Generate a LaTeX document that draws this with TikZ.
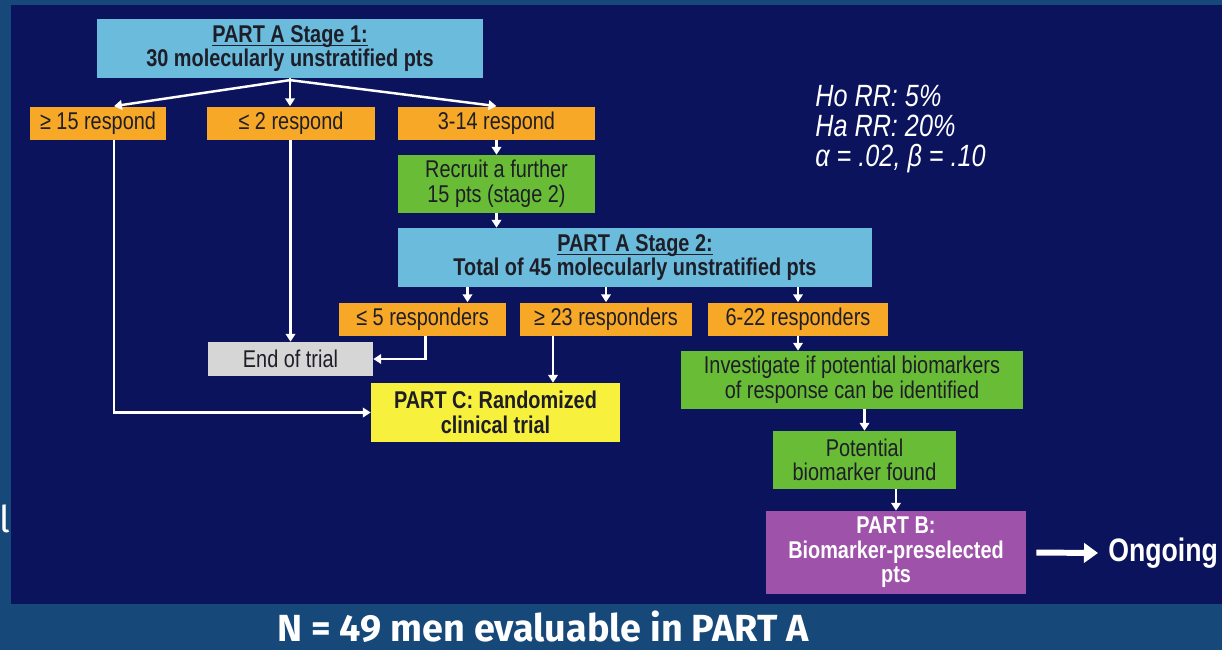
\documentclass[tikz,border=0pt]{standalone}
\usepackage{fontspec}
\setmainfont{Liberation Sans}[FakeStretch=0.82]
\newfontfamily\slidefont{Fira Sans}
\usepackage{tikz}
\usetikzlibrary{positioning,calc,arrows.meta}

\newcommand\ulpart[1]{\setbox0\hbox{#1}\rlap{\rule[-2.2pt]{\wd0}{0.7pt}}\box0}

\definecolor{frameblue}{RGB}{23,72,122}
\definecolor{slidenavy}{RGB}{11,19,93}
\definecolor{stageblue}{RGB}{107,187,221}
\definecolor{respOrange}{RGB}{247,168,38}
\definecolor{stepGreen}{RGB}{104,188,54}
\definecolor{endGray}{RGB}{214,214,214}
\definecolor{partYellow}{RGB}{247,240,60}
\definecolor{partPurple}{RGB}{158,82,170}
\definecolor{boxtext}{RGB}{30,30,40}

\begin{document}
\begin{tikzpicture}[
    x=0.02cm, y=-0.02cm,
    box/.style={align=center, inner sep=1pt, text=boxtext,
                font=\fontsize{13.8}{14}\selectfont},
    stage/.style={box, fill=stageblue, minimum height=1.18cm},
    resp/.style={box, fill=respOrange, minimum height=0.66cm},
    act/.style={box, fill=stepGreen, minimum height=1.16cm},
    arr/.style={draw=white, line width=1.4pt,
                -{Triangle[width=5.5pt,length=4.5pt]}},
    bigarr/.style={draw=white, line width=3.4pt,
                   -{Triangle[width=11pt,length=8pt]}},
  ]
  \useasboundingbox (0,0) rectangle (1222,650);
  % ---------------------------------------------------------------
  % slide background: lighter frame, dark panel
  % ---------------------------------------------------------------
  \fill[frameblue] (0,0) rectangle (1222,650);
  \node[text=white, font=\slidefont\fontsize{21}{24}\selectfont] (cut) at (5,519) {l};
  \fill[slidenavy] (11,5) rectangle (1222,604);

  % ---------------------------------------------------------------
  % Stage 1 and its three outcomes
  % ---------------------------------------------------------------
  \node[stage, minimum width=7.72cm] (s1) at (290,48.5)
    {\ulpart{\textbf{PART A Stage 1:}}\\\textbf{30 molecularly unstratified pts}};
  \node[resp, minimum width=2.72cm] (ge15) at (98,123) {≥ 15 respond};
  \node[resp, minimum width=3.36cm] (le2) at (291,123) {≤ 2 respond};
  \node[resp, minimum width=3.94cm] (r314) at (496.5,123) {3-14 respond};
  \node[act, minimum width=3.94cm] (recr) at (496.5,184)
    {Recruit a further\\15 pts (stage 2)};

  % ---------------------------------------------------------------
  % Stage 2 and its three outcomes
  % ---------------------------------------------------------------
  \node[stage, minimum width=9.48cm] (s2) at (635,257.5)
    {\ulpart{\textbf{PART A Stage 2:}}\\\textbf{Total of 45 molecularly unstratified pts}};
  \node[resp, minimum width=3.34cm] (le5) at (422.5,319) {≤ 5 responders};
  \node[resp, minimum width=3.44cm] (ge23) at (606,319) {≥ 23 responders};
  \node[resp, minimum width=3.6cm] (r622) at (798,319) {6-22 responders};

  % end points
  \node[box, fill=endGray, minimum width=3.3cm, minimum height=0.68cm] (endt)
    at (290.5,359) {End of trial};
  \node[box, fill=partYellow, minimum width=4.98cm, minimum height=1.18cm] (partc)
    at (495.5,412.5) {\textbf{PART C: Randomized}\\\textbf{clinical trial}};
  \node[act, minimum width=6.84cm] (invest) at (852,380)
    {Investigate if potential biomarkers\\of response can be identified};
  \node[act, minimum width=3.66cm] (found) at (864.5,460)
    {Potential\\biomarker found};
  \node[box, fill=partPurple, text=white, minimum width=5.2cm, minimum height=1.66cm]
    (partb) at (896,552.5) {\textbf{PART B:}\\\textbf{Biomarker-preselected}\\\textbf{pts}};
  \node[anchor=west, inner sep=0pt, text=white,
        font=\bfseries\fontsize{18.5}{20}\selectfont] (ongo) at (1108,553) {Ongoing};

  % design parameters
  \node[anchor=north west, align=left, text=white, inner sep=0pt,
        font=\itshape\fontsize{17.5}{17}\selectfont] (hyp) at (815,85)
    {Ho RR: 5\%\\Ha RR: 20\%\\α = .02, β = .10};

  % footer
  \node[text=white, inner sep=0pt,
        font=\slidefont\bfseries\fontsize{21.5}{24}\selectfont] (foot)
    at (543,627) {N = 49 men evaluable in PART A};

  % ---------------------------------------------------------------
  % connectors
  % ---------------------------------------------------------------
  \coordinate (a1) at ($(ge15.north)+(16,0)$);
  \draw[arr] ([yshift=-1pt]s1.south) -- (a1);
  \draw[arr] (s1.south) -- (le2.north -| s1.south);
  \draw[arr] ([yshift=-1pt]s1.south) -- (r314.north);
  \coordinate (a2) at ($(ge15.south)+(16,0)$);
  \draw[arr] (a2) |- (partc.west);
  \draw[arr] (le2.south -| endt.north) -- (endt.north);
  \draw[arr] (r314.south) -- (recr.north);
  \draw[arr] (recr.south) -- (recr.south |- s2.north);

  \coordinate (b1) at ($(le5.north)+(45,0)$);
  \draw[arr] (b1 |- s2.south) -- (b1);
  \draw[arr] (ge23.north |- s2.south) -- (ge23.north);
  \draw[arr] (r622.north |- s2.south) -- (r622.north);
  \draw[arr] ($(le5.south)+(3,0)$) |- (endt.east);
  \coordinate (b2) at ($(ge23.south)+(-53,0)$);
  \draw[arr] (b2) -- (b2 |- partc.north);
  \draw[arr] (r622.south) -- (r622.south |- invest.north);
  \draw[arr] (invest.south -| found.north) -- (found.north);
  \draw[arr] (found.south -| partb.north) -- (partb.north);
  \draw[bigarr] ([xshift=0.2cm]partb.east) -- ([xshift=-0.2cm]ongo.west);
\end{tikzpicture}
\end{document}
